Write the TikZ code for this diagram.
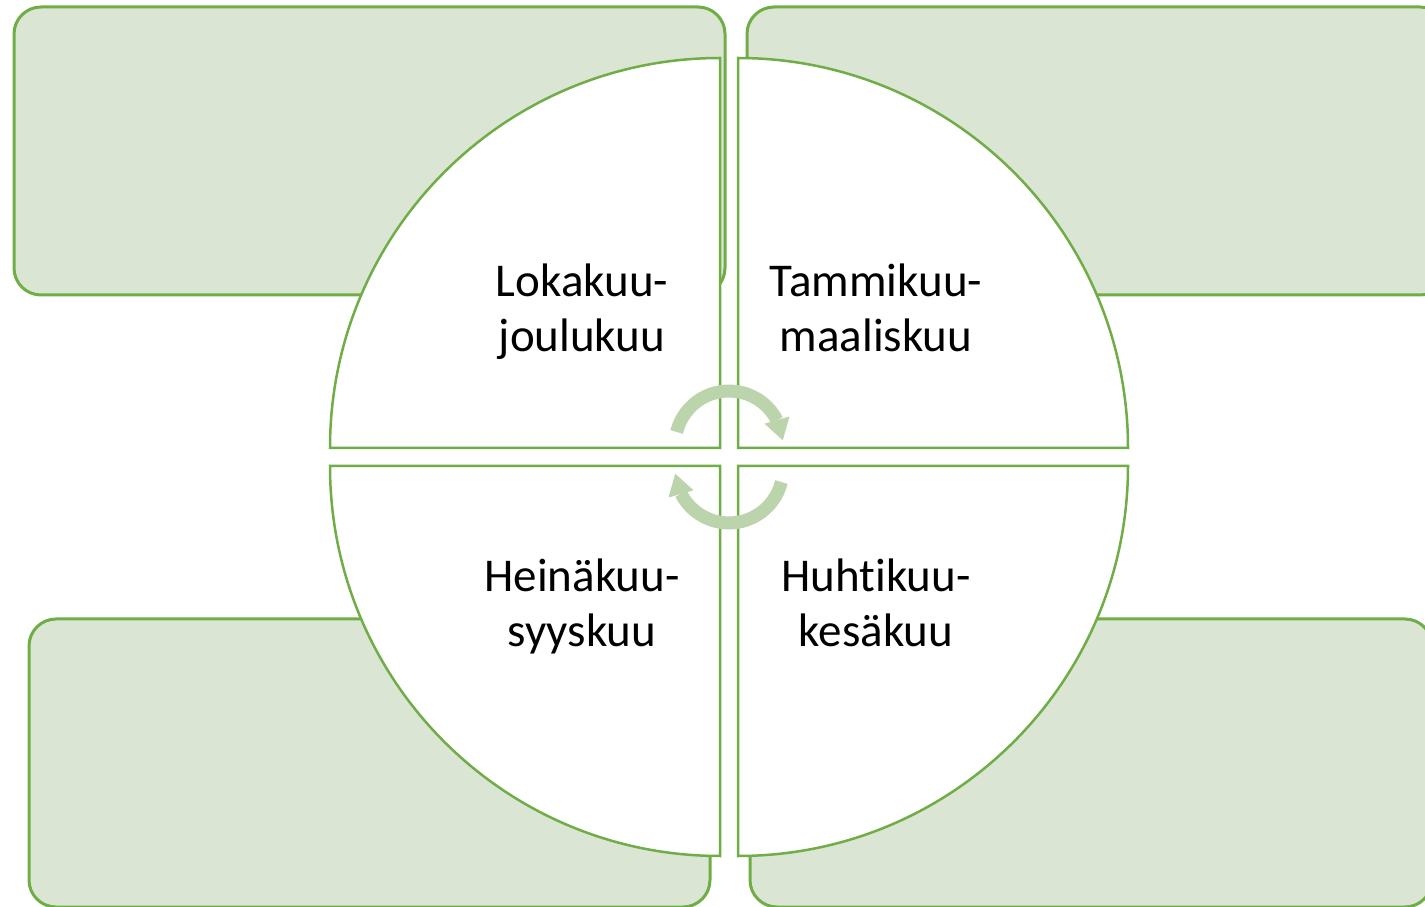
\documentclass[tikz,border=0pt]{standalone}
\usepackage{fontspec}
\setmainfont{Carlito}[Ligatures={NoCommon}]
\usepackage{tikz}
\usetikzlibrary{arrows.meta, bending}
\definecolor{accent}{HTML}{70AD47}
\definecolor{panelfill}{HTML}{DAE5D4}
\definecolor{cyclegreen}{HTML}{BBD4AC}

\begin{document}
\begin{tikzpicture}[x=0.5pt, y=0.5pt,
    every node/.style={font=\fontsize{23.5}{27.5}\selectfont, align=center, inner sep=0pt},
    panel/.style={draw=accent, fill=panelfill, line width=1.5pt, rounded corners=13.5pt},
    quarter/.style={draw=accent, fill=white, line width=1.25pt},
    cyc/.style={draw=cyclegreen, line width=6.5pt,
      -{Triangle[width=13pt, length=10.5pt, line width=0pt]}}]
  \useasboundingbox (0,0) rectangle (1425,906);
  \clip (0,0) rectangle (1425,906);
  \path[panel] (14,899) rectangle (725,611);
  \path[panel] (747,899) rectangle (1447,611);
  \path[panel] (29,287) rectangle (710,-1);
  \path[panel] (750,287) rectangle (1432,-1);
  \path[quarter] (720,458) -- (330,458) arc[start angle=180, end angle=90, radius=390] -- cycle;
  \path[quarter] (738,458) -- (738,848) arc[start angle=90, end angle=0, radius=390] -- cycle;
  \path[quarter] (720,440) -- (720,50) arc[start angle=270, end angle=180, radius=390] -- cycle;
  \path[quarter] (738,440) -- (1128,440) arc[start angle=0, end angle=-90, radius=390] -- cycle;
  \coordinate (hubtop) at (729,461);
  \coordinate (hubbot) at (729,437);
  \draw[cyc] ([shift={(166:54)}]hubtop) arc[start angle=166, end angle=5, radius=54];
  \draw[cyc] ([shift={(-14:54)}]hubbot) arc[start angle=-14, end angle=-175, radius=54];
  \node[anchor=base] (oct) at (582,554) {Lokakuu-\\joulukuu};
  \node[anchor=base] (jan) at (876,554) {Tammikuu-\\maaliskuu};
  \node[anchor=base] (jul) at (582,259) {Heinäkuu-\\syyskuu};
  \node[anchor=base] (apr) at (876,259) {Huhtikuu-\\kesäkuu};
\end{tikzpicture}
\end{document}
